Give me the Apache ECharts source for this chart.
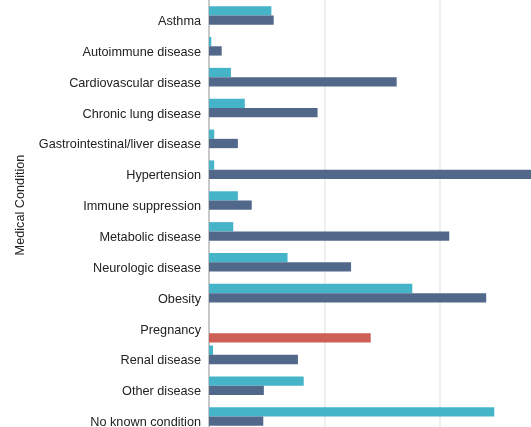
<!DOCTYPE html>
<html>
<head>
<meta charset="utf-8">
<script src="https://cdn.jsdelivr.net/npm/echarts@6/dist/echarts.min.js"></script>
<style>
html,body{margin:0;padding:0;background:#fff;}
#chart{width:531px;height:427px;}
</style>
</head>
<body>
<div id="chart"></div>
<script>
var categories = ["Asthma","Autoimmune disease","Cardiovascular disease","Chronic lung disease","Gastrointestinal/liver disease","Hypertension","Immune suppression","Metabolic disease","Neurologic disease","Obesity","Pregnancy","Renal disease","Other disease","No known condition"];
var seriesTeal = [5.4,0.2,1.9,3.1,0.45,0.45,2.5,2.1,6.8,17.6,'-',0.35,8.2,24.7];
var seriesDark = [5.6,1.1,16.25,9.4,2.5,29,3.7,20.8,12.3,24.0,'-',7.7,4.75,4.7];
var seriesRed = ['-','-','-','-','-','-','-','-','-','-',14.0,'-','-','-'];
var emptySlot = ['-','-','-','-','-','-','-','-','-','-','-','-','-','-'];
var axisTitle = "Medical Condition";

var chart = echarts.init(document.getElementById('chart'), null, {renderer:'canvas'});
chart.setOption({
  animation:false,
  textStyle:{fontFamily:'Liberation Sans, Arial, sans-serif'},
  grid:{left:209, top:0, width:346.5, height:432, containLabel:false, outerBoundsMode:'none'},
  xAxis:{type:'value', min:0, max:30, interval:10,
    axisLabel:{show:false}, axisLine:{show:false}, axisTick:{show:false},
    splitLine:{show:true, lineStyle:{color:'#efefef', width:2}}},
  yAxis:[{type:'category', data:categories, inverse:true,
    axisTick:{show:false},
    axisLine:{show:true, lineStyle:{color:'#c8c8c8', width:2}},
    axisLabel:{color:'#222', fontSize:12.7, margin:8, verticalAlign:'top', lineHeight:12, fontFamily:'Liberation Sans, Arial, sans-serif'}},
    {type:'category', data:categories, inverse:true, show:false}],
  graphic:[{type:'text', x:20, y:205, rotation:Math.PI/2,
    style:{text:axisTitle, fill:'#222', font:'12.7px "Liberation Sans", Arial, sans-serif', textAlign:'center', textVerticalAlign:'middle'}}],
  series:[
    {type:'bar', yAxisIndex:0, data:seriesTeal, barWidth:9.3, barGap:'0%', itemStyle:{color:'#46b4c8'}},
    {type:'bar', yAxisIndex:0, data:seriesDark, barWidth:9.3, barGap:'0%', itemStyle:{color:'#52688a'}},
    {type:'bar', yAxisIndex:1, data:emptySlot, barWidth:9.3, barGap:'200%', itemStyle:{color:'#fff'}},
    {type:'bar', yAxisIndex:1, data:seriesRed, barWidth:9.3, barGap:'200%', itemStyle:{color:'#cd5f55'}}
  ]
});
</script>
</body>
</html>
